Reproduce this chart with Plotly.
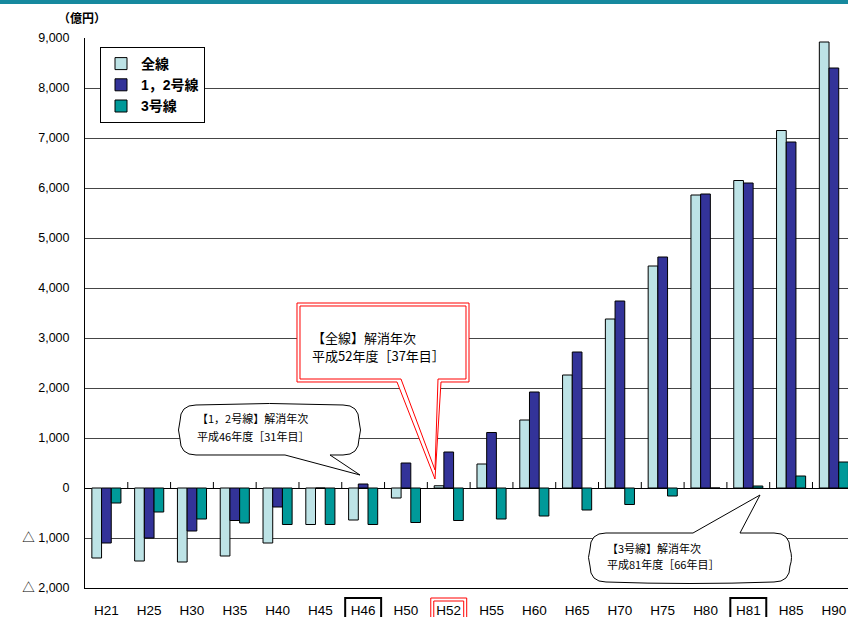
import plotly.graph_objects as go

categories = ["H21","H25","H30","H35","H40","H45","H46","H50","H52","H55",
              "H60","H65","H70","H75","H80","H81","H85","H90"]
zensen   = [-1400,-1460,-1480,-1360,-1100,-730,-640,-200,45,480,
            1360,2260,3380,4440,5860,6150,7150,8920]
line12   = [-1100,-1000,-860,-650,-380,0,80,500,720,1110,
            1920,2720,3740,4620,5880,6100,6920,8400]
line3    = [-300,-480,-620,-700,-730,-730,-730,-690,-650,-620,
            -560,-440,-330,-160,0,40,240,520]
series_names = ["<b>全線</b>", "<b>1，2号線</b>", "<b>3号線</b>"]
ytick_vals = [9000,8000,7000,6000,5000,4000,3000,2000,1000,0,-1000,-2000]
ytick_text = ["9,000","8,000","7,000","6,000","5,000","4,000","3,000","2,000",
              "1,000","0","△ 1,000","△ 2,000"]

W, H = 848, 617
ML, MT, MB, MR = 85, 38, 29, 0
PW, PH = W - ML - MR, H - MT - MB

def px(X):
    return (X - ML) / PW

def py(Y):
    return (MT + PH - Y) / PH

def P(x, y):
    return f"{px(x):.5f},{py(y):.5f}"

FONT = "Liberation Sans, Arial, Noto Sans CJK JP, sans-serif"
JFONT = "Noto Sans CJK JP, sans-serif"

fig = go.Figure()
colors = ["#bde3e6", "#333399", "#009999"]
for name, vals, col in zip(series_names, [zensen, line12, line3], colors):
    fig.add_trace(go.Bar(x=categories, y=vals, name=name,
                         marker=dict(color=col, line=dict(color="#000000", width=1))))

shapes = []
# header band
shapes.append(dict(type="rect", xref="paper", yref="paper",
                   x0=px(0), x1=px(W), y0=py(4), y1=py(0),
                   fillcolor="#16899e", line=dict(width=0), layer="above"))
# tick marks on zero line
for i in range(len(categories) - 1):
    shapes.append(dict(type="line", xref="x", yref="y", x0=i + 0.5, x1=i + 0.5,
                       y0=0, y1=120, line=dict(color="#000000", width=1)))

# label boxes
def label_box(cat, color, width, inset=0):
    i = categories.index(cat)
    hw = 0.42 - inset / (PW / 17.83)
    return dict(type="rect", xref="x", yref="paper", x0=i - hw, x1=i + hw,
                y0=py(625), y1=py(598 + inset), line=dict(color=color, width=width))

shapes.append(label_box("H46", "#000000", 2))
shapes.append(label_box("H81", "#000000", 2))
shapes.append(label_box("H52", "#ff0000", 1))
shapes.append(label_box("H52", "#ff0000", 1, inset=3))

def rounded_callout(L, T, R, B, r, ta, tb, tip, side):
    b = 3
    mx, my = (L + R) / 2, (T + B) / 2
    parts = [f"M{P(L + r, T)}"]
    if side == "top":
        parts += [f"L{P(ta, T)}", f"L{P(*tip)}", f"L{P(tb, T)}", f"L{P(R - r, T)}"]
    else:
        parts += [f"Q{P(mx, T - b)} {P(R - r, T)}"]
    parts += [f"Q{P(R, T)} {P(R, T + r)}", f"Q{P(R + b, my)} {P(R, B - r)}",
              f"Q{P(R, B)} {P(R - r, B)}"]
    if side == "bottom":
        parts += [f"L{P(tb, B)}", f"L{P(*tip)}", f"L{P(ta, B)}", f"L{P(L + r, B)}"]
    else:
        parts += [f"Q{P(mx, B + b)} {P(L + r, B)}"]
    parts += [f"Q{P(L, B)} {P(L, B - r)}", f"Q{P(L - b, my)} {P(L, T + r)}",
              f"Q{P(L, T)} {P(L + r, T)}", "Z"]
    return " ".join(parts)

# callout 1 (1,2号線)
shapes.append(dict(type="path", xref="paper", yref="paper",
                   path=rounded_callout(180, 405, 359, 455, 16, 285, 330, (360, 475), "bottom"),
                   fillcolor="#ffffff", line=dict(color="#000000", width=1), layer="above"))
# callout 3 (3号線)
shapes.append(dict(type="path", xref="paper", yref="paper",
                   path=rounded_callout(590, 533, 790, 582, 16, 693, 740, (760, 495), "top"),
                   fillcolor="#ffffff", line=dict(color="#000000", width=1), layer="above"))

# callout 2 (全線) red double line
def rect_callout(L, T, R, B, ta, tb, tip):
    return " ".join([f"M{P(L, T)}", f"L{P(R, T)}", f"L{P(R, B)}", f"L{P(tb, B)}",
                     f"L{P(*tip)}", f"L{P(ta, B)}", f"L{P(L, B)}", "Z"])

shapes.append(dict(type="path", xref="paper", yref="paper",
                   path=rect_callout(297, 303, 469, 382, 397, 441, (435, 479)),
                   fillcolor="#ffffff", line=dict(color="#ff0000", width=1), layer="above"))
shapes.append(dict(type="path", xref="paper", yref="paper",
                   path=rect_callout(300, 306, 466, 379, 401, 438, (435, 470)),
                   fillcolor="rgba(0,0,0,0)", line=dict(color="#ff0000", width=1), layer="above"))

annotations = []
def txt(x, y, s, size=11.5):
    annotations.append(dict(xref="paper", yref="paper", x=px(x), y=py(y), text=s,
                            showarrow=False, xanchor="left", yanchor="middle",
                            font=dict(family=JFONT, size=size, color="#000000")))

txt(195, 418, "【1，2号線】解消年次", 11)
txt(195, 436, "平成46年度［31年目］", 11)
txt(310, 337, "【全線】解消年次", 13)
txt(310, 355, "平成52年度［37年目］", 13)
txt(605, 548, "【3号線】解消年次", 11)
txt(605, 564, "平成81年度［66年目］", 11)
annotations.append(dict(xref="paper", yref="paper", x=px(82), y=py(18), text="<b>（億円）</b>",
                        showarrow=False, xanchor="center", yanchor="middle",
                        font=dict(family=JFONT, size=12, color="#000000")))

fig.update_layout(
    width=W, height=H,
    margin=dict(l=ML, r=MR, t=MT, b=MB, pad=0),
    paper_bgcolor="#ffffff", plot_bgcolor="#ffffff",
    barmode="group", bargap=0.32, bargroupgap=0,
    font=dict(family=FONT, size=12, color="#000000"),
    showlegend=True,
    legend=dict(x=px(100), y=py(47), xanchor="left", yanchor="top",
                bgcolor="#ffffff", bordercolor="#000000", borderwidth=1,
                font=dict(family="Liberation Sans, Noto Sans CJK JP, sans-serif", size=14),
                tracegroupgap=0, itemwidth=30),
    xaxis=dict(type="category", categoryorder="array", categoryarray=categories,
               range=[-0.5, 17.33], showgrid=False, showline=True, linecolor="#000000",
               linewidth=1, ticks="", tickfont=dict(size=13.5), ticklabelstandoff=10,
               fixedrange=True),
    yaxis=dict(range=[-2000, 9000], tickvals=ytick_vals, ticktext=ytick_text,
               showgrid=True, gridcolor="#454545", gridwidth=1,
               zeroline=True, zerolinecolor="#000000", zerolinewidth=1,
               showline=True, linecolor="#000000", linewidth=1,
               ticks="", ticklabelstandoff=12, tickfont=dict(size=12.5)),
    shapes=shapes, annotations=annotations,
)

fig.write_html("out.html")
